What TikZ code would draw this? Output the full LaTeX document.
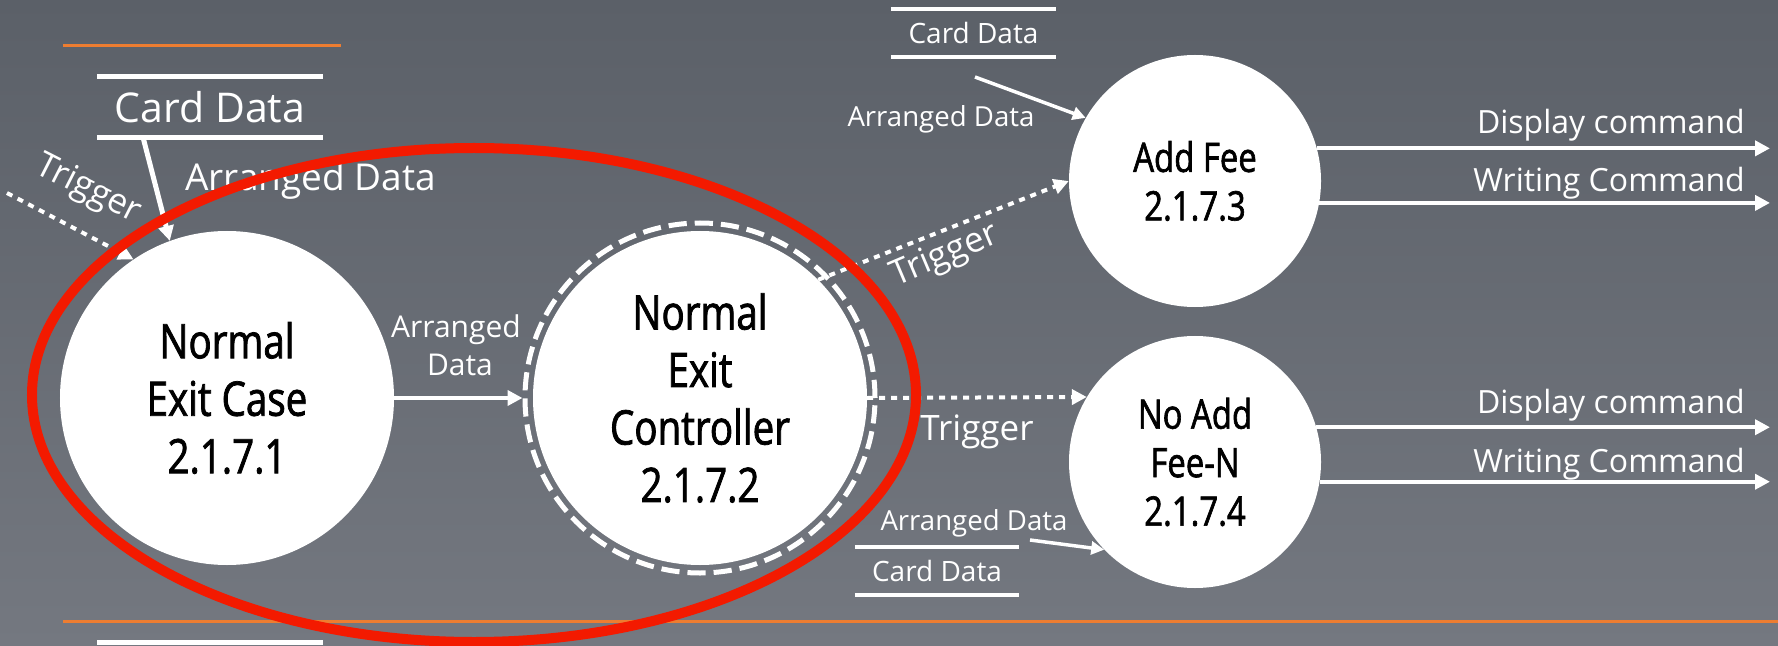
\documentclass[tikz,border=0pt]{standalone}
\usepackage{fontspec}
\setmainfont{Open Sans}
\newfontfamily\circfont[FakeStretch=0.81,FakeBold=1.6]{Open Sans}
\usetikzlibrary{arrows.meta,calc}
\definecolor{bgtop}{RGB}{91,96,104}
\definecolor{bgbot}{RGB}{116,120,128}
\definecolor{ringred}{RGB}{243,26,0}
\definecolor{accentorange}{RGB}{237,125,49}
\tikzset{
  proc/.style={circle,fill=white,draw=none,inner sep=0pt},
  bigtext/.style={font=\circfont\fontsize{47.6bp}{57.5bp}\selectfont,align=center,text=black,inner sep=0pt},
  smalltext/.style={font=\circfont\fontsize{40.6bp}{48.5bp}\selectfont,align=center,text=black,inner sep=0pt},
  lbl/.style={text=white,inner sep=0pt},
  flow/.style={draw=white,line width=4bp,-{Triangle[length=15bp,width=15bp]}},
  trig/.style={flow,dash pattern=on 6bp off 6bp},
  storeline/.style={draw=white,line width=4bp},
  store/.style={text=white,inner sep=0pt,minimum height=48bp},
  ringstyle/.style={circle,draw=white,line width=5bp,dash pattern=on 18.2bp off 8bp,inner sep=0pt,minimum size=350bp},
  orangeline/.style={draw=accentorange,line width=3bp},
  redloop/.style={draw=ringred,line width=10bp}
}
\begin{document}
\begin{tikzpicture}[x=1bp,y=-1bp]
\useasboundingbox (0,0) rectangle (1778,646);
\shade[top color=bgtop,bottom color=bgbot] (0,0) rectangle (1778,646);

% decorative lines
\draw[orangeline] (63,46) -- (341,46);
\draw[orangeline] (63,621) -- (1778,621);
\draw[storeline,line width=5bp] (97,642) -- (323,642);

% processes
\node[proc,minimum size=334bp] (c1) at (227,398) {};
\node[bigtext] (c1t) at (c1.center) {Normal\\Exit Case\\2.1.7.1};
\node[ringstyle] (ring) at (700,398) {};
\node[proc,minimum size=334bp] (c2) at (700,398) {};
\node[bigtext] (c2t) at (c2.center) {Normal\\Exit\\Controller\\2.1.7.2};
\node[proc,minimum size=252bp] (f3) at (1195,181) {};
\node[smalltext] (f3t) at (f3.center) {Add Fee\\2.1.7.3};
\node[proc,minimum size=252bp] (f4) at (1195,462) {};
\node[smalltext] (f4t) at (f4.center) {No Add\\Fee-N\\2.1.7.4};

% data stores
\node[store,minimum width=226bp,minimum height=60bp,font=\fontsize{41bp}{49bp}\selectfont] (cd1) at (210,107) {Card Data};
\draw[storeline,line width=5bp] (cd1.north west) -- (cd1.north east);
\draw[storeline,line width=5bp] (cd1.south west) -- (cd1.south east);
\node[store,minimum width=165bp,font=\fontsize{28bp}{34bp}\selectfont] (cd3) at (973.5,33) {Card Data};
\draw[storeline] (cd3.north west) -- (cd3.north east);
\draw[storeline] (cd3.south west) -- (cd3.south east);
\node[store,minimum width=164bp,font=\fontsize{28bp}{34bp}\selectfont] (cd4) at (937,571) {Card Data};
\draw[storeline] (cd4.north west) -- (cd4.north east);
\draw[storeline] (cd4.south west) -- (cd4.south east);

% free ends
\coordinate (trigin) at (7,193);
\coordinate (ad3) at (975,77);
\coordinate (ad4) at (1030,540);
\coordinate (xend) at (1770,0);

% connectors
\draw[flow,line width=5bp] ([xshift=-67bp]cd1.south) -- (c1.110);
\draw[trig] (trigin) -- (c1.124);
\draw[flow] (c1.east) -- (ring.west);
\draw[trig] (c2.45) -- (f3.west);
\draw[trig] (c2.east) -- (f4.149.5);
\draw[flow,line width=3.5bp,-{Triangle[length=13bp,width=13bp]}] (ad3) -- (f3.150.5);
\draw[flow,line width=3.5bp,-{Triangle[length=13bp,width=13bp]}] (ad4) -- (f4.224.4);
\draw[flow] (f3.15.7) -- (f3.15.7 -| xend);
\draw[flow] (f3.-10.5) -- (f3.-10.5 -| xend);
\draw[flow] (f4.16.1) -- (f4.16.1 -| xend);
\draw[flow] (f4.-9.6) -- (f4.-9.6 -| xend);

% labels
\node[lbl,anchor=base,font=\fontsize{37bp}{44bp}\selectfont] (l1) at (310.5,191) {Arranged Data};
\node[lbl,rotate=-27,font=\fontsize{35bp}{42bp}\selectfont] (l2) at (88,190) {Trigger};
\node[lbl,anchor=base,font=\fontsize{30bp}{36bp}\selectfont] (l3a) at (456,337) {Arranged};
\node[lbl,anchor=base,font=\fontsize{30bp}{36bp}\selectfont] (l3b) at (460,375) {Data};
\node[lbl,rotate=23,font=\fontsize{35bp}{42bp}\selectfont] (l4) at (945,256) {Trigger};
\node[lbl,anchor=base,font=\fontsize{35bp}{42bp}\selectfont] (l5) at (977,440) {Trigger};
\node[lbl,anchor=base,font=\fontsize{27.6bp}{33bp}\selectfont] (l6) at (941,127) {Arranged Data};
\node[lbl,anchor=base,font=\fontsize{27.6bp}{33bp}\selectfont] (l7) at (974,530) {Arranged Data};
\node[lbl,anchor=base east,font=\fontsize{32bp}{38bp}\selectfont] (o1) at (1745,134) {Display command};
\node[lbl,anchor=base east,font=\fontsize{32bp}{38bp}\selectfont] (o2) at (1745,192) {Writing Command};
\node[lbl,anchor=base east,font=\fontsize{32bp}{38bp}\selectfont] (o3) at (1745,413) {Display command};
\node[lbl,anchor=base east,font=\fontsize{32bp}{38bp}\selectfont] (o4) at (1745,472) {Writing Command};

% highlight
\draw[redloop] (474,395) ellipse [x radius=442bp, y radius=247bp];
\end{tikzpicture}
\end{document}
